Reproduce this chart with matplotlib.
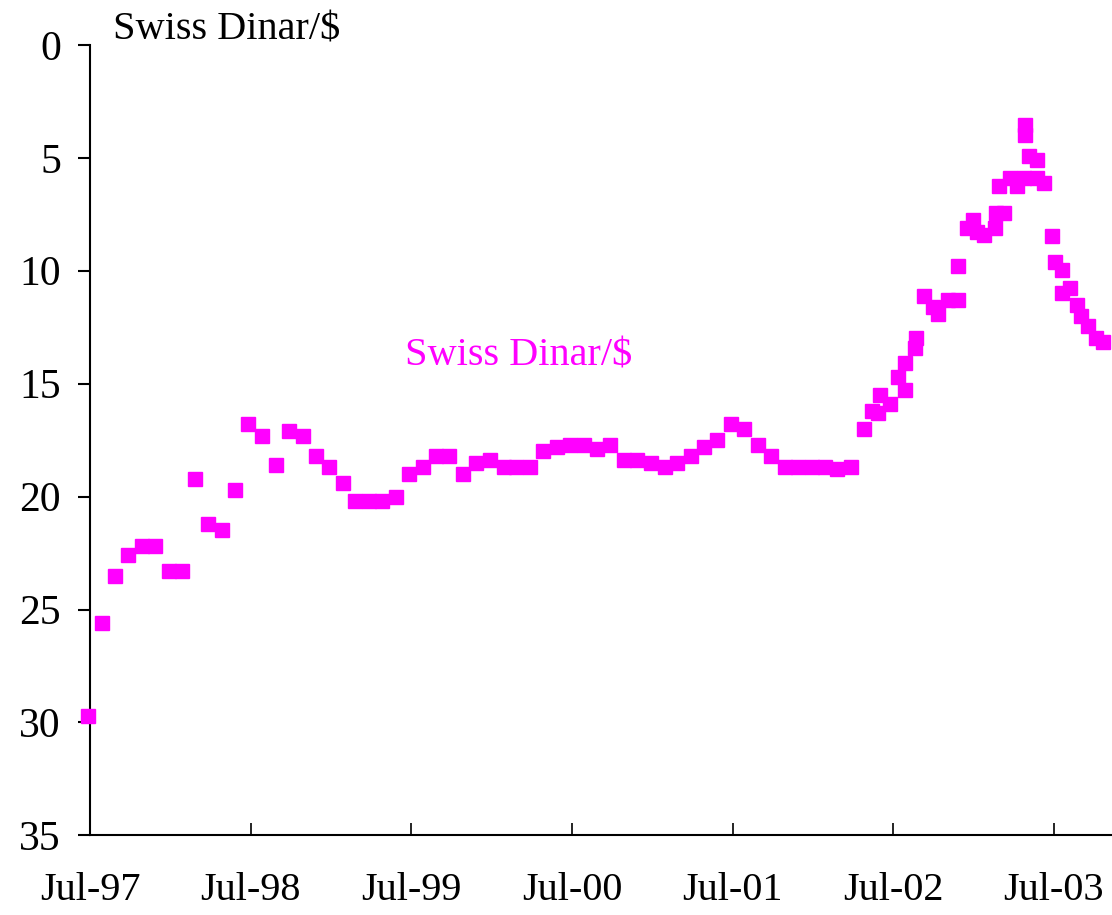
import numpy as np
import pandas as pd
import matplotlib
matplotlib.use("Agg")
import matplotlib.pyplot as plt
import matplotlib.dates as mdates

##### Data #####
# monthly readings, Jul-97 .. Apr-02 (taken near the end of the previous month)
monthly_start = "1997-07-01"
monthly_values = [29.7, 25.6, 23.5, 22.6, 22.2, 22.2, 23.3, 23.3, 19.2, 21.2,
                  21.5, 19.7, 16.8, 17.3, 18.6, 17.1, 17.3, 18.2, 18.7, 19.4,
                  20.2, 20.2, 20.2, 20.0, 19.0, 18.7, 18.2, 18.2, 19.0, 18.5,
                  18.4, 18.7, 18.7, 18.7, 18.0, 17.8, 17.7, 17.7, 17.9, 17.7,
                  18.4, 18.4, 18.5, 18.7, 18.5, 18.2, 17.8, 17.5, 16.8, 17.0,
                  17.7, 18.2, 18.7, 18.7, 18.7, 18.7, 18.8, 18.7]

# more frequent readings from May-02 on
dense_dates = ["2002-04-26", "2002-05-13", "2002-05-28", "2002-06-01", "2002-06-23",
               "2002-07-11", "2002-07-27", "2002-07-27", "2002-08-19", "2002-08-21",
               "2002-09-08", "2002-09-29", "2002-10-10", "2002-11-02", "2002-11-25",
               "2002-11-26", "2002-12-15", "2002-12-28", "2003-01-06", "2003-01-22",
               "2003-02-16", "2003-02-20", "2003-02-27", "2003-03-10", "2003-03-24",
               "2003-04-09", "2003-04-25", "2003-04-27", "2003-04-27", "2003-05-06",
               "2003-05-24", "2003-05-24", "2003-06-09", "2003-06-27", "2003-07-04",
               "2003-07-20", "2003-07-20", "2003-08-06", "2003-08-23", "2003-08-31",
               "2003-09-16", "2003-10-04", "2003-10-20"]
dense_values = [17.0, 16.2, 16.3, 15.5, 15.9,
                14.7, 15.3, 14.1, 13.4, 13.0,
                11.1, 11.6, 11.9, 11.3, 11.3,
                9.8, 8.1, 7.75, 8.3, 8.4,
                8.1, 7.45, 6.25, 7.45, 5.9,
                6.25, 5.9, 3.55, 4.0, 4.9,
                5.9, 5.1, 6.1, 8.45, 9.6,
                9.95, 11.0, 10.75, 11.5, 12.0,
                12.45, 13.0, 13.15]

tick_dates = ["1997-07-01", "1998-07-01", "1999-07-01", "2000-07-01",
              "2001-07-01", "2002-07-01", "2003-07-01"]

series_name = "Swiss Dinar/$"

monthly_dates = pd.date_range(monthly_start, periods=len(monthly_values), freq="MS") - pd.Timedelta(days=5)
dates = list(monthly_dates) + list(pd.to_datetime(dense_dates))
values = monthly_values + dense_values

##### Plot #####
plt.rcParams['font.family'] = ['Liberation Serif', 'DejaVu Serif']
magenta = '#FF00FF'

fig = plt.figure(figsize=(11.12, 9.15), dpi=100)
ax = fig.add_axes([0.081, 0.087, 0.919, 0.864])

ax.plot(dates, values, linestyle='none', marker='s', markersize=10,
        color=magenta, markeredgecolor=magenta, clip_on=False, zorder=3)

ax.set_ylim(35, 0)
ax.set_yticks(np.arange(0, 36, 5))
ax.set_xlim(pd.Timestamp("1997-07-01"), pd.Timestamp("2003-11-10"))
ax.set_xticks(pd.to_datetime(tick_dates))
ax.xaxis.set_major_formatter(mdates.DateFormatter('%b-%y'))

for side in ['top', 'right']:
    ax.spines[side].set_visible(False)
for side in ['left', 'bottom']:
    ax.spines[side].set_linewidth(1.5)

ax.tick_params(axis='y', direction='out', length=9, width=1.5, pad=12, labelsize=30)
ax.tick_params(axis='x', direction='in', length=9, width=1.2, pad=26, labelsize=29)

fig.text(113 / 1112, 1 - 30 / 915, series_name, ha='left', va='center', fontsize=29)
ax.text(0.308, 0.606, series_name, transform=ax.transAxes, color=magenta,
        ha='left', va='center', fontsize=29)

fig.savefig("out.png", dpi=100)
